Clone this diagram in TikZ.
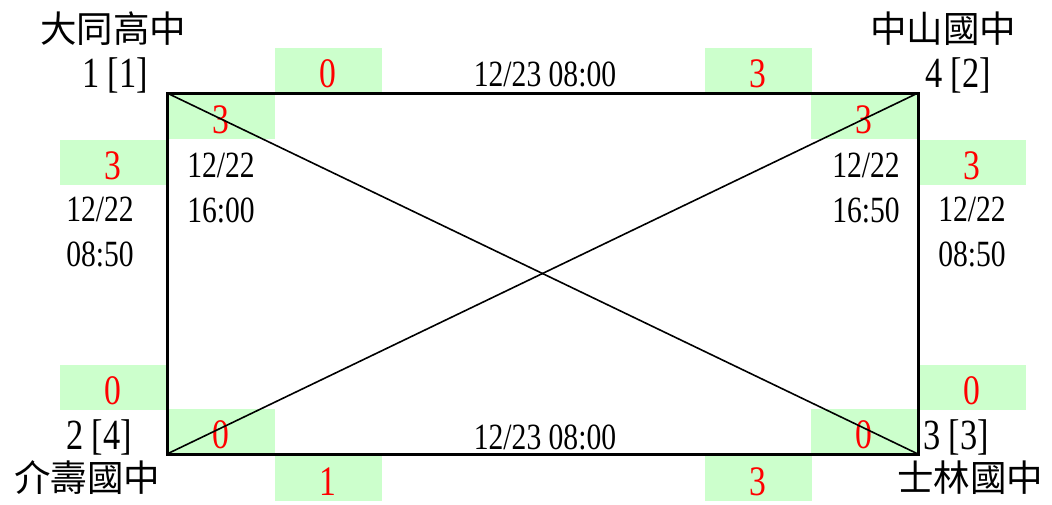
\documentclass[tikz,border=0pt]{standalone}
\usepackage{fontspec}
\setmainfont[FakeStretch=0.8]{Liberation Serif}
\newfontfamily\cjk{Noto Sans CJK TC}
\begin{document}
\begin{tikzpicture}[x=1pt,y=-1pt,
  gbox/.style={fill=green!20, draw=none, minimum width=107pt, minimum height=45pt, inner sep=0pt, text=red, text height=35pt, text depth=0pt, font=\fontsize{42}{42}\selectfont},
  lbl/.style={inner sep=0pt, font=\fontsize{43}{43}\selectfont},
  tm/.style={inner sep=0pt, align=center, font=\fontsize{37}{45}\selectfont},
  sch/.style={inner sep=0pt, font=\cjk\fontsize{36.5}{36.5}\selectfont}]
\useasboundingbox (0,0) rectangle (1052,504);
\coordinate (A) at (167,93);
\coordinate (B) at (918,93);
\coordinate (C) at (918,454);
\coordinate (D) at (167,454);
% green boxes
\node[gbox] (g1) at (221,116) {3};
\node[gbox] (g2) at (113,162) {3};
\node[gbox] (g3) at (328,70) {0};
\node[gbox] (g4) at (758,70) {3};
\node[gbox] (g5) at (864,116) {3};
\node[gbox] (g6) at (972,162) {3};
\node[gbox] (g7) at (113,387) {0};
\node[gbox] (g8) at (221,431) {0};
\node[gbox] (g9) at (328,478) {1};
\node[gbox] (g10) at (758,478) {3};
\node[gbox] (g11) at (864,431) {0};
\node[gbox] (g12) at (972,387) {0};
% diagonals
\draw[line width=1.6pt] (A) -- (C);
\draw[line width=1.6pt] (D) -- (B);
\draw[line width=3pt] (A) -- (B) -- (C) -- (D) -- cycle;
% labels
\node[sch] (n1) at (113,29) {大同高中};
\node[lbl] (l1) at (115,75) {1 [1]};
\node[sch] (n2) at (943,29) {中山國中};
\node[lbl] (l2) at (958,75) {4 [2]};
\node[sch] (n3) at (87,478) {介壽國中};
\node[lbl] (l3) at (99,437) {2 [4]};
\node[sch] (n4) at (970,478) {士林國中};
\node[lbl] (l4) at (956,437) {3 [3]};
% times
\node[tm] (t1) at (545,74) {12/23 08:00};
\node[tm] (t2) at (545,437) {12/23 08:00};
\node[tm] (t3) at (221,188) {12/22\\16:00};
\node[tm] (t4) at (866,188) {12/22\\16:50};
\node[tm] (t5) at (100,232) {12/22\\08:50};
\node[tm] (t6) at (972,232) {12/22\\08:50};
\end{tikzpicture}
\end{document}
